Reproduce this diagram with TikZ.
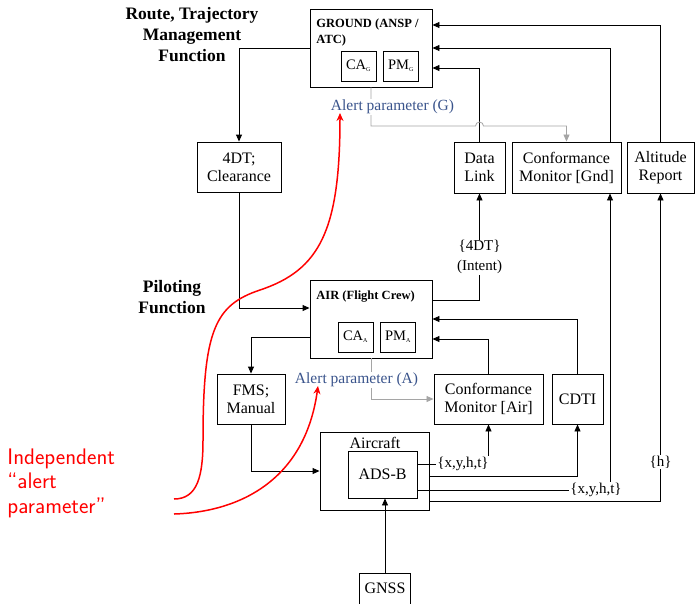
\documentclass[tikz,border=0pt]{standalone}
\usepackage{fontspec}
\setmainfont{Liberation Serif}
\usepackage{xcolor}
\usepackage{tikz}
\usetikzlibrary{positioning,arrows.meta}

\definecolor{alertblue}{RGB}{58,84,140}
\definecolor{alertgray}{RGB}{165,165,165}

\begin{document}
\begin{tikzpicture}[x=1pt, y=-1pt, line width=0.9pt,
  >={Triangle[length=7pt,width=6pt]},
  box/.style={draw, inner sep=1pt, align=center, font=\fontsize{16}{18}\selectfont},
  subbox/.style={draw, inner sep=1pt, minimum width=35pt, minimum height=30pt, font=\fontsize{14.5}{16}\selectfont},
  hdr/.style={anchor=north west, inner sep=0pt, align=left, font=\fontsize{12.5}{16}\selectfont\bfseries},
  ttl/.style={align=center, font=\fontsize{17.5}{21}\selectfont\bfseries},
  lab/.style={fill=white, inner sep=1pt, align=center, font=\fontsize{15}{20}\selectfont},
  alert/.style={fill=white, inner sep=1pt, text=alertblue, font=\fontsize{15.5}{18}\selectfont},
  gline/.style={draw=alertgray, line width=0.8pt},
  redline/.style={draw=red, line width=1.5pt, -{Stealth[length=8pt,width=7pt]}}]
\useasboundingbox (0,0) rectangle (695,603);

% function titles
\node[ttl] (RT) at (192,35) {Route, Trajectory\\Management\\Function};
\node[ttl] (PF) at (172,297.5) {Piloting\\Function};

% ground side
\node[box, minimum width=122pt, minimum height=78pt] (G) at (371,48) {};
\node[hdr] (Gt) at (316,18) {GROUND (ANSP /\\ATC)};
\node[subbox] (CAG) at (358.5,66) {CA\textsubscript{\fontsize{6}{6}\selectfont G}};
\node[subbox] (PMG) at (401,66) {PM\textsubscript{\fontsize{6}{6}\selectfont G}};
\node[box, minimum width=84pt, minimum height=50pt] (CLR) at (239,167) {4DT;\\Clearance};
\node[box, minimum width=51pt, minimum height=51pt] (DL) at (479.5,167.5) {Data\\Link};
\node[box, minimum width=109pt, minimum height=51pt] (CMG) at (566.5,167.5) {Conformance\\Monitor [Gnd]};
\node[box, minimum width=67pt, minimum height=51pt] (ALT) at (660.5,167.5) {Altitude\\Report};

% air side
\node[box, minimum width=122pt, minimum height=78pt] (AIR) at (371,319) {};
\node[hdr] (AIRt) at (316,290) {AIR (Flight Crew)};
\node[subbox] (CAA) at (355.5,337) {CA\textsubscript{\fontsize{6}{6}\selectfont A}};
\node[subbox] (PMA) at (398,337) {PM\textsubscript{\fontsize{6}{6}\selectfont A}};
\node[box, minimum width=68pt, minimum height=50pt] (FMS) at (251,399) {FMS;\\Manual};
\node[box, minimum width=109pt, minimum height=50pt] (CMA) at (488.5,399) {Conformance\\Monitor [Air]};
\node[box, minimum width=51pt, minimum height=50pt] (CDTI) at (577.5,399) {CDTI};

% aircraft
\node[box, minimum width=109pt, minimum height=78pt] (ACFT) at (374.5,471) {};
\node[inner sep=0pt, font=\fontsize{16}{18}\selectfont] (ACFTt) at (375,443) {Aircraft};
\node[box, minimum width=69pt, minimum height=47pt] (ADSB) at (382.5,474.5) {ADS-B};
\node[box, minimum width=51pt, minimum height=31pt] (GNSS) at (385,588.5) {GNSS};
\node[lab] (XA) at (463,464) {\{x,y,h,t\}};
\node[lab] (XG) at (596,490) {\{x,y,h,t\}};

% ground links
\draw[->] (G.west) -| (CLR.north);
\draw[->] (CLR.south) |- ([yshift=11pt]AIR.west);
\draw[->] (DL.north) |- ([yshift=-20pt]G.east);
\draw[->] ([xshift=43.5pt]CMG.north) |- (G.east);
\draw[->] (ALT.north) |- ([yshift=23pt]G.east);
\coordinate (hopG) at (475.5,126);
\draw[gline,->] (G.south) |- (hopG) arc[start angle=180, end angle=0, radius=4pt] -| (CMG.north);
\node[alert] (APG) at (392.5,107) {Alert parameter (G)};

% air links
\draw[->] ([yshift=19pt]AIR.east) -| (DL.south) node[lab, pos=0.7] (INT) {\{4DT\}\\(Intent)};
\draw[->] (CMA.north) |- ([yshift=-20pt]AIR.east);
\draw[->] (CDTI.north) |- (AIR.east);
\draw[->] ([yshift=-18pt]AIR.west) -| (FMS.north);
\draw[gline,->] (AIR.south) |- (CMA.west);
\node[alert] (APA) at (356.5,380) {Alert parameter (A)};

% aircraft links
\coordinate (CMGin) at ([xshift=43.5pt]CMG.south);
\draw[->] (FMS.south) |- (ACFT.west);
\draw ([yshift=10.5pt]ADSB.east) -- (XA.west);
\draw[->] (XA.north -| CMA.south) -- (CMA.south);
\draw[->] ([yshift=-5pt]ACFT.east) -| (CDTI.south);
\draw ([yshift=-15.5pt]ADSB.east) -- (XG.west);
\draw[->] (XG.north -| CMGin) -- (CMGin);
\draw[->] ([yshift=-30pt]ACFT.east) -| (ALT.south) node[lab, pos=0.563] (H) {\{h\}};
\draw[->] (GNSS.north) -- (GNSS.north |- ADSB.south);

% independent alert parameter
\node[anchor=west, inner sep=0pt, align=left, text=red, font=\sffamily\fontsize{22.5}{24.5}\selectfont] (IND) at (7,483) {Independent\\“alert\\parameter”};
\coordinate (r1) at (174,499);
\coordinate (r2) at (174,514);
\coordinate (tipG) at (340,113);
\coordinate (tipA) at (318,386);
\draw[redline] (r1) .. controls (198,499) and (203,475) .. (203,440)
  .. controls (203,330) and (215,305) .. (260,290)
  .. controls (320,270) and (340,230) .. (tipG);
\draw[redline] (r2) .. controls (240,512) and (305,480) .. (tipA);
\end{tikzpicture}
\end{document}
